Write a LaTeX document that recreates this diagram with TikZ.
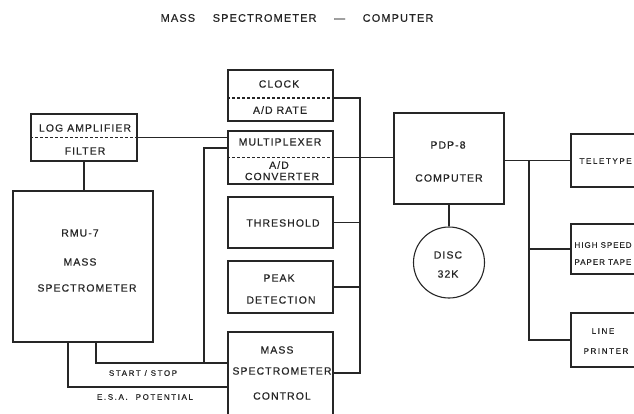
\documentclass[tikz,border=0pt]{standalone}
\usepackage{fontspec}
\setmainfont{Liberation Sans}
\newfontfamily\labfont[LetterSpace=10,FakeBold=0.4]{Liberation Sans}
\newfontfamily\smallfont[LetterSpace=20,FakeBold=0.4]{Liberation Sans}
\newfontfamily\tightfont[LetterSpace=12,FakeBold=0.4]{Liberation Sans}
\begin{document}
\begin{tikzpicture}[x=1pt,y=-1pt,
  line width=1.1pt, draw=black!85,
  box/.style={draw, inner sep=0pt, minimum width=#1},
  lab/.style={inner sep=0pt, font=\labfont\fontsize{10.5}{12}\selectfont, text=black!85},
  sml/.style={inner sep=0pt, font=\smallfont\fontsize{8}{9}\selectfont, text=black!85},
  tgt/.style={inner sep=0pt, font=\tightfont\fontsize{8}{9}\selectfont, text=black!85},
  ttl/.style={inner sep=0pt, font=\labfont\fontsize{11}{13}\selectfont, text=black!85},
  dsh/.style={dashed, dash pattern=on 3pt off 2pt}]
\clip (0,0) rectangle (634,413);
\fill[white] (0,0) rectangle (634,413);

\node[ttl] (title) at (297,18) {MASS\hspace{1.6em}SPECTROMETER\hspace{1.6em}—\hspace{1.6em}COMPUTER};

% boxes
\node[box=106pt, minimum height=47pt] (logamp) at (84,137.5) {};
\node[box=140pt, minimum height=151pt] (rmu) at (83,266.5) {};
\node[box=105pt, minimum height=51pt] (clock) at (280.5,95.5) {};
\node[box=105pt, minimum height=53pt] (mux) at (280.5,157.5) {};
\node[box=105pt, minimum height=51pt] (thresh) at (280.5,222.5) {};
\node[box=105pt, minimum height=52pt] (peak) at (280.5,287) {};
\node[box=105pt, minimum height=93pt] (control) at (280.5,378.5) {};
\node[box=110pt, minimum height=91pt] (pdp) at (449,158.5) {};
\node[draw, circle, inner sep=0pt, minimum size=71pt] (disc) at (449,262.5) {};
\node[box=89pt, minimum height=53pt] (tele) at (615.5,160.5) {};
\node[box=89pt, minimum height=50pt] (hs) at (615.5,249) {};
\node[box=89pt, minimum height=54pt] (lp) at (615.5,340) {};

% dashed dividers
\draw[dsh] (logamp.west) -- (logamp.east);
\draw[dsh] ([yshift=-2.5pt]clock.west) -- ([yshift=-2.5pt]clock.east);
\draw[dsh] (mux.west) -- (mux.east);

% labels
\node[lab] (t1) at (85,128) {LOG AMPLIFIER};
\node[lab] (t2) at (85,151) {FILTER};
\node[lab] (t3) at (80,233) {RMU-7};
\node[lab] (t4) at (80,262) {MASS};
\node[lab] (t5) at (87,288) {SPECTROMETER};
\node[lab] (t6) at (279,84) {CLOCK};
\node[lab] (t7) at (280,110) {A/D RATE};
\node[lab] (t8) at (280,142) {MULTIPLEXER};
\node[lab] (t9) at (279,165) {A/D};
\node[lab] (t10) at (282,176.5) {CONVERTER};
\node[lab] (t11) at (283,223) {THRESHOLD};
\node[lab] (t12) at (279,278) {PEAK};
\node[lab] (t13) at (281,300) {DETECTION};
\node[lab] (t14) at (277,350) {MASS};
\node[lab] (t15) at (282,371) {SPECTROMETER};
\node[lab] (t16) at (282,396) {CONTROL};
\node[lab] (t17) at (448,145) {PDP-8};
\node[lab] (t18) at (449,178) {COMPUTER};
\node[lab] (t19) at (448,255) {DISC};
\node[lab] (t20) at (448,274) {32K};
\node[sml, anchor=west] (t21) at (579,161) {TELETYPE};
\node[tgt, anchor=west] (t22) at (574,245) {HIGH SPEED};
\node[tgt, anchor=west] (t23) at (574,262) {PAPER TAPE};
\node[sml] (t24) at (603,331) {LINE};
\node[sml] (t25) at (606,351) {PRINTER};
\node[sml] (t26) at (143,373) {START / STOP};
\node[sml] (t27) at (145,397) {E.S.A.\quad POTENTIAL};

% connectors
\coordinate (ss) at (204,363);
\coordinate (esa) at (150,387);
\coordinate (bt) at (360,98);
\coordinate (ob) at (529,161);
\draw (logamp.east) -- (logamp.east -| mux.west);
\draw (logamp.south) -- (logamp.south |- rmu.north);
\draw ([yshift=9.5pt]mux.west) -| (ss) -- (ss -| control.west);
\draw ([xshift=13pt]rmu.south) |- (ss);
\draw ([xshift=-15pt]rmu.south) |- (esa -| control.west);
\draw ([yshift=-2.5pt]clock.east) -- (bt) |- ([yshift=5.5pt]control.east);
\draw (thresh.east) -- (thresh.east -| bt);
\draw (peak.east) -- (peak.east -| bt);
\draw (mux.east) -- (mux.east -| pdp.west);
\draw (pdp.south) -- (disc.north);
\draw (pdp.east |- tele.west) -- (tele.west);
\draw (ob) |- (lp.west);
\draw (hs.west) -- (hs.west -| ob);
\end{tikzpicture}
\end{document}
